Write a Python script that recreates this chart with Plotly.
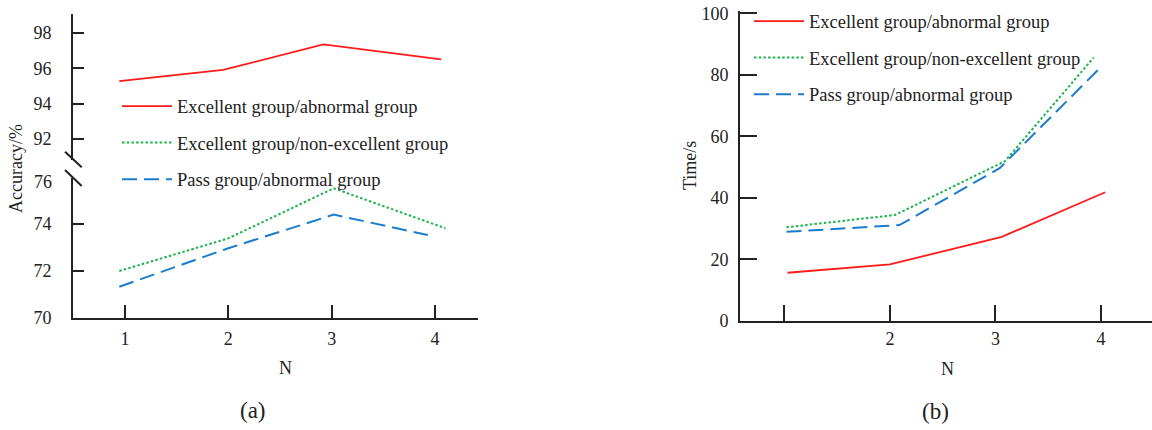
import plotly.graph_objects as go

W, H = 1152, 430

def fx(p):
    return p / W

def fy(p):
    return 1 - p / H

# ---------------- data ----------------
series_names = ["Excellent group/abnormal group",
                "Excellent group/non-excellent group",
                "Pass group/abnormal group"]

n_tickvals = [1, 2, 3, 4]
left_ticktext = ["1", "2", "3", "4"]
right_ticktext = ["", "2", "3", "4"]
acc_upper_ticks = [92, 94, 96, 98]
acc_lower_ticks = [70, 72, 74]
acc_break_label = "76"
time_ticks = [0, 20, 40, 60, 80, 100]

# (a) accuracy
acc_x_red = [0.945, 1.95, 2.92, 4.06]
acc_red = [95.28, 95.91, 97.36, 96.51]
acc_x_green = [0.945, 2.00, 3.02, 4.10]
acc_green = [72.00, 73.39, 75.52, 73.82]
acc_x_blue = [0.945, 2.00, 3.02, 3.93]
acc_blue = [71.33, 72.97, 74.40, 73.53]

# (b) time
time_x_red = [1.03, 2.00, 3.06, 4.04]
time_red = [15.6, 18.3, 27.3, 41.8]
time_x_green = [1.02, 2.05, 3.09, 3.93]
time_green = [30.4, 34.4, 51.9, 85.6]
time_x_blue = [1.02, 2.09, 3.04, 4.01]
time_blue = [28.9, 31.1, 49.6, 82.9]

# ---------------- styles ----------------
RED = "#ff1a1a"
GREEN = "#1db34a"
BLUE = "#1c7ccc"
INK = "#222222"
SERIF = "Liberation Serif, Times New Roman, serif"

styles = [dict(color=RED, width=1.8, dash="solid"),
          dict(color=GREEN, width=2.0, dash="2.5px,2.2px"),
          dict(color=BLUE, width=2.0, dash="15px,7px")]

fig = go.Figure()

left_sets = [(acc_x_red, acc_red, "y"), (acc_x_green, acc_green, "y2"), (acc_x_blue, acc_blue, "y2")]
for i, (xs, ys, ya) in enumerate(left_sets):
    fig.add_trace(go.Scatter(x=xs, y=ys, mode="lines", name=series_names[i],
                             line=styles[i], xaxis="x", yaxis=ya,
                             legend="legend", legendgroup="a%d" % i))

right_sets = [(time_x_red, time_red), (time_x_green, time_green), (time_x_blue, time_blue)]
for i, (xs, ys) in enumerate(right_sets):
    fig.add_trace(go.Scatter(x=xs, y=ys, mode="lines", name=series_names[i],
                             line=styles[i], xaxis="x2", yaxis="y3",
                             legend="legend2", legendgroup="b%d" % i))

tickfont = dict(family=SERIF, size=18, color=INK)
axis_common = dict(showline=True, linecolor=INK, linewidth=2, showgrid=False,
                   zeroline=False, ticks="inside", tickcolor=INK, tickwidth=2,
                   tickfont=tickfont, fixedrange=True, automargin=False,
                   ticklabeloverflow="allow")

legend_common = dict(xanchor="left", yanchor="top", bgcolor="rgba(0,0,0,0)",
                     font=dict(family=SERIF, size=18.5, color=INK),
                     itemwidth=50, traceorder="grouped", tracegroupgap=9.5,
                     borderwidth=0)

fig.update_layout(
    width=W, height=H,
    margin=dict(l=0, r=0, t=0, b=0, autoexpand=False),
    paper_bgcolor="white", plot_bgcolor="white",
    showlegend=True,
    # ---- panel (a)
    xaxis=dict(domain=[fx(73), fx(478)], range=[0.497, 4.416], anchor="y2",
               tickvals=n_tickvals, ticktext=left_ticktext, ticklen=13,
               ticklabelstandoff=3, **axis_common),
    yaxis=dict(domain=[fy(160), fy(14)], range=[90.81, 99.08], anchor="x",
               tickvals=acc_upper_ticks, ticklen=11, ticklabelstandoff=16,
               **axis_common),
    yaxis2=dict(domain=[fy(318), fy(178.2)], range=[70, 75.95], anchor="x",
                tickvals=acc_lower_ticks, ticklen=11, ticklabelstandoff=16,
                **axis_common),
    # ---- panel (b)
    xaxis2=dict(domain=[fx(740), 1.0], range=[0.580, 4.483], anchor="y3",
                tickvals=n_tickvals, ticktext=right_ticktext, ticklen=16,
                ticklabelstandoff=1, **axis_common),
    yaxis3=dict(domain=[fy(320.7), fy(11)], range=[0, 100.75], anchor="x2",
                tickvals=time_ticks, ticklen=17, ticklabelstandoff=6,
                **axis_common),
    legend=dict(x=fx(117), y=fy(87.5), **legend_common),
    legend2=dict(x=fx(749), y=fy(2.5), **legend_common),
)

# broken-axis marks on panel (a)
for (x0, y0, x1, y1) in [(65, 151.7, 81.7, 167.3), (65, 170, 81.7, 186)]:
    fig.add_shape(type="line", xref="paper", yref="paper",
                  x0=fx(x0), y0=fy(y0), x1=fx(x1), y1=fy(y1),
                  line=dict(color=INK, width=2))

ann_font = dict(family=SERIF, size=18, color=INK)
# label 76 of the lower (broken) axis
fig.add_annotation(text=acc_break_label, xref="paper", yref="paper", x=fx(54), y=fy(181.5),
                   xanchor="right", yanchor="middle", showarrow=False, font=tickfont)
# axis titles
fig.add_annotation(text="Accuracy/%", xref="paper", yref="paper", x=fx(16), y=fy(169),
                   textangle=-90, showarrow=False, font=ann_font,
                   xanchor="center", yanchor="middle")
fig.add_annotation(text="N", xref="paper", yref="paper", x=fx(285), y=fy(368),
                   showarrow=False, font=ann_font, xanchor="center", yanchor="middle")
fig.add_annotation(text="Time/s", xref="paper", yref="paper", x=fx(690), y=fy(166),
                   textangle=-90, showarrow=False, font=ann_font,
                   xanchor="center", yanchor="middle")
fig.add_annotation(text="N", xref="paper", yref="paper", x=fx(947), y=fy(369),
                   showarrow=False, font=ann_font, xanchor="center", yanchor="middle")
# panel captions
cap_font = dict(family=SERIF, size=23, color=INK)
fig.add_annotation(text="(a)", xref="paper", yref="paper", x=fx(253), y=fy(410),
                   showarrow=False, font=cap_font, xanchor="center", yanchor="middle")
fig.add_annotation(text="(b)", xref="paper", yref="paper", x=fx(935), y=fy(411),
                   showarrow=False, font=cap_font, xanchor="center", yanchor="middle")

fig.write_html("out.html", config={"displayModeBar": False},
               post_script="document.body.style.margin='0';")
